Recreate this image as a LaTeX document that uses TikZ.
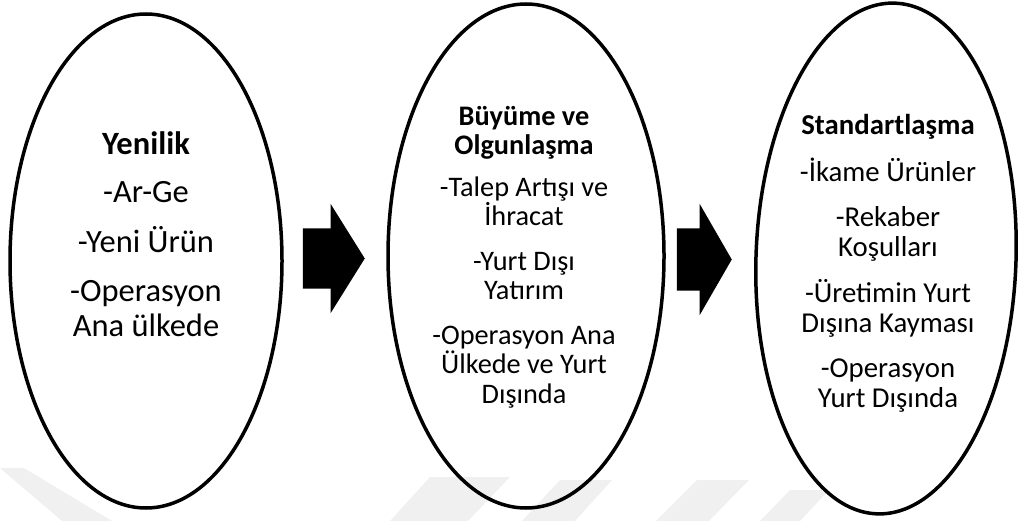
\documentclass[tikz,border=0pt]{standalone}
\usepackage{fontspec}
\setmainfont{Carlito}
\usetikzlibrary{shapes.geometric, shapes.arrows, positioning}

\begin{document}
\begin{tikzpicture}[x=1pt, y=-1pt,
    stage/.style={ellipse, draw=black, line width=3.5pt, inner sep=0pt},
    phase/.style={align=center, inner sep=0pt, anchor=north},
    pusharrow/.style={single arrow, fill=black, draw=none, inner xsep=0pt, inner ysep=30pt, single arrow tip angle=116, single arrow head extend=24.5pt, anchor=tip},
    wm/.style={fill=black!6, draw=none}
]
\useasboundingbox (0,0) rectangle (1019,521);
% faint watermark
\fill[wm] (0,468) -- (24,468) -- (112,521) -- (62,521) -- cycle;
\fill[wm] (430,477) -- (510,477) -- (468,521) -- (390,521) -- cycle;
\fill[wm] (560,480) -- (612,480) -- (575,521) -- (522,521) -- cycle;
\fill[wm] (697,480) -- (749,480) -- (709,521) -- (656,521) -- cycle;
\fill[wm] (790,490) -- (829,490) -- (800,521) -- (760,521) -- cycle;

\node[stage, minimum width=272pt, minimum height=494pt] (e1) at (146,261) {};
\node[stage, minimum width=276pt, minimum height=504pt] (e2) at (526,256) {};
\node[stage, minimum width=260pt, minimum height=511pt, rotate=-2] (e3) at (886,258.5) {};

\node[pusharrow, minimum height=62pt] (a1) at (365,258.5) {};
\node[pusharrow, minimum height=55pt, inner ysep=31pt, single arrow tip angle=120] (a2) at (732,259.5) {};

\node[phase, font=\fontsize{32.5}{35}\selectfont] (t1) at (146,131)
    {\textbf{Yenilik}\\[13pt] -Ar-Ge\\[15pt] -Yeni Ürün\\[14pt] -Operasyon\\ Ana ülkede};
\node[phase, font=\fontsize{28.3}{29.5}\selectfont] (t2) at (524,106)
    {\textbf{Büyüme ve}\\ \textbf{Olgunlaşma}\\[12pt] -Talep Artışı ve\\ İhracat\\[15pt] -Yurt Dışı\\ Yatırım\\[15pt] -Operasyon Ana\\ Ülkede ve Yurt\\ Dışında};
\node[phase, font=\fontsize{28.8}{30}\selectfont] (t3) at (888,114)
    {\textbf{Standartlaşma}\\[17pt] -İkame Ürünler\\[15pt] -Rekaber\\ Koşulları\\[16pt] -Üretimin Yurt\\ Dışına Kayması\\[15pt] -Operasyon\\ Yurt Dışında};
\end{tikzpicture}
\end{document}
